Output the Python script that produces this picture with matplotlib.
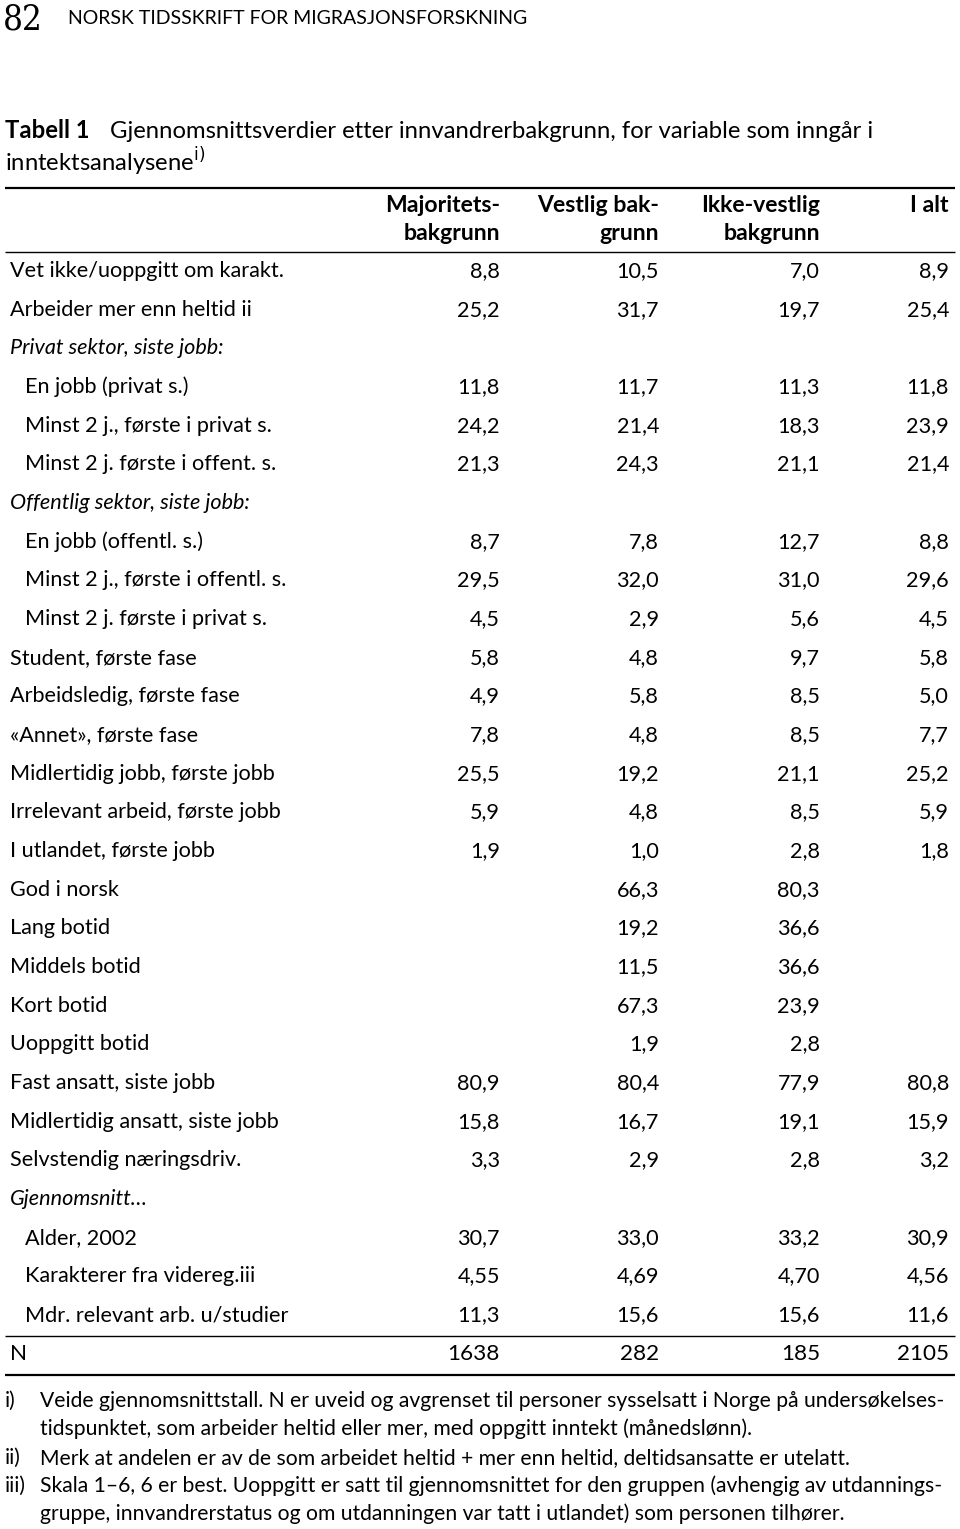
import matplotlib
matplotlib.use("Agg")
import matplotlib.pyplot as plt

FONT = "Lato"

# ---- data ----
columns = ["Majoritets-\nbakgrunn", "Vestlig bak-\ngrunn", "Ikke-vestlig\nbakgrunn", "I alt"]
row_labels = [
    "Vet ikke/uoppgitt om karakt.",
    "Arbeider mer enn heltid ii",
    "Privat sektor, siste jobb:",
    "En jobb (privat s.)",
    "Minst 2 j., første i privat s.",
    "Minst 2 j. første i offent. s.",
    "Offentlig sektor, siste jobb:",
    "En jobb (offentl. s.)",
    "Minst 2 j., første i offentl. s.",
    "Minst 2 j. første i privat s.",
    "Student, første fase",
    "Arbeidsledig, første fase",
    "«Annet», første fase",
    "Midlertidig jobb, første jobb",
    "Irrelevant arbeid, første jobb",
    "I utlandet, første jobb",
    "God i norsk",
    "Lang botid",
    "Middels botid",
    "Kort botid",
    "Uoppgitt botid",
    "Fast ansatt, siste jobb",
    "Midlertidig ansatt, siste jobb",
    "Selvstendig næringsdriv.",
    "Gjennomsnitt…",
    "Alder, 2002",
    "Karakterer fra videreg.iii",
    "Mdr. relevant arb. u/studier",
]
row_kind = ["n", "n", "h", "i", "i", "i", "h", "i", "i", "i",
            "n", "n", "n", "n", "n", "n", "n", "n", "n", "n", "n",
            "n", "n", "n", "h", "i", "i", "i"]
decimals = [1] * 26 + [2, 1]

majoritet = [8.8, 25.2, None, 11.8, 24.2, 21.3, None, 8.7, 29.5, 4.5,
             5.8, 4.9, 7.8, 25.5, 5.9, 1.9, None, None, None, None, None,
             80.9, 15.8, 3.3, None, 30.7, 4.55, 11.3]
vestlig = [10.5, 31.7, None, 11.7, 21.4, 24.3, None, 7.8, 32.0, 2.9,
           4.8, 5.8, 4.8, 19.2, 4.8, 1.0, 66.3, 19.2, 11.5, 67.3, 1.9,
           80.4, 16.7, 2.9, None, 33.0, 4.69, 15.6]
ikke_vestlig = [7.0, 19.7, None, 11.3, 18.3, 21.1, None, 12.7, 31.0, 5.6,
                9.7, 8.5, 8.5, 21.1, 8.5, 2.8, 80.3, 36.6, 36.6, 23.9, 2.8,
                77.9, 19.1, 2.8, None, 33.2, 4.70, 15.6]
i_alt = [8.9, 25.4, None, 11.8, 23.9, 21.4, None, 8.8, 29.6, 4.5,
         5.8, 5.0, 7.7, 25.2, 5.9, 1.8, None, None, None, None, None,
         80.8, 15.9, 3.2, None, 30.9, 4.56, 11.6]
n_values = [1638, 282, 185, 2105]

footnotes = [
    ("i)", "Veide gjennomsnittstall. N er uveid og avgrenset til personer sysselsatt i Norge på undersøkelses-"),
    ("", "tidspunktet, som arbeider heltid eller mer, med oppgitt inntekt (månedslønn)."),
    ("ii)", "Merk at andelen er av de som arbeidet heltid + mer enn heltid, deltidsansatte er utelatt."),
    ("iii)", "Skala 1–6, 6 er best. Uoppgitt er satt til gjennomsnittet for den gruppen (avhengig av utdannings-"),
    ("", "gruppe, innvandrerstatus og om utdanningen var tatt i utlandet) som personen tilhører."),
]

# ---- drawing ----
W, H = 960, 1529
fig = plt.figure(figsize=(W / 100, H / 100), dpi=100)
ax = fig.add_axes([0, 0, 1, 1])
ax.set_xlim(0, W)
ax.set_ylim(H, 0)
ax.axis("off")

FS = 15.6
FS_HEAD = 16.6
FS_NOTE = 15.2

def fmt(v, d):
    if v is None:
        return ""
    return f"{v:.{d}f}".replace(".", ",")

# header of page
ax.text(3, 19, "82", fontsize=25, family="DejaVu Serif", stretch="condensed",
        va="center", ha="left")
ax.text(68, 19, "NORSK TIDSSKRIFT FOR MIGRASJONSFORSKNING", fontsize=14,
        family=FONT, va="center", ha="left")

# title
ax.text(5, 131, "Tabell 1", fontsize=17.2, family=FONT, weight="bold",
        va="center", ha="left")
ax.text(110, 131, "Gjennomsnittsverdier etter innvandrerbakgrunn, for variable som inngår i",
        fontsize=17.2, family=FONT, va="center", ha="left")
ax.text(5, 162, r"inntektsanalysene$^{\mathrm{i)}}$", fontsize=17.2, family=FONT,
        va="center", ha="left")

# rules
for y, lw in [(188, 1.6), (252, 1.0), (1336, 1.0), (1375, 1.6)]:
    ax.plot([5, 955], [y, y], color="black", lw=lw, solid_capstyle="butt")

col_right = [500, 659, 820, 949]

# column headers
for x, c in zip(col_right, columns):
    lines = c.split("\n")
    for k, ln in enumerate(lines):
        ax.text(x, 205 + 28 * k, ln, fontsize=FS_HEAD, family=FONT, weight="bold",
                ha="right", va="center")

# rows
series = [majoritet, vestlig, ikke_vestlig, i_alt]
y0, dy = 271, 38.67
for i, lab in enumerate(row_labels):
    y = y0 + i * dy
    kind = row_kind[i]
    x = 25 if kind == "i" else 10
    style = "italic" if kind == "h" else "normal"
    ax.text(x, y, lab, fontsize=FS, family=FONT, style=style, ha="left", va="center")
    for xr, s in zip(col_right, series):
        txt = fmt(s[i], decimals[i])
        if txt:
            ax.text(xr, y, txt, fontsize=FS, family=FONT, ha="right", va="center")

# N row
yN = 1354
ax.text(10, yN, "N", fontsize=16.2, family=FONT, ha="left", va="center")
for xr, v in zip(col_right, n_values):
    ax.text(xr, yN, str(v), fontsize=16.2, family=FONT, ha="right", va="center")

# footnotes
fy = [1401, 1429, 1458, 1486, 1514]
for (mark, txt), y in zip(footnotes, fy):
    if mark:
        ax.text(5, y, mark, fontsize=FS_NOTE, family=FONT, ha="left", va="center")
    ax.text(40, y, txt, fontsize=FS_NOTE, family=FONT, ha="left", va="center")

fig.savefig("out.png", dpi=100, facecolor="white")
